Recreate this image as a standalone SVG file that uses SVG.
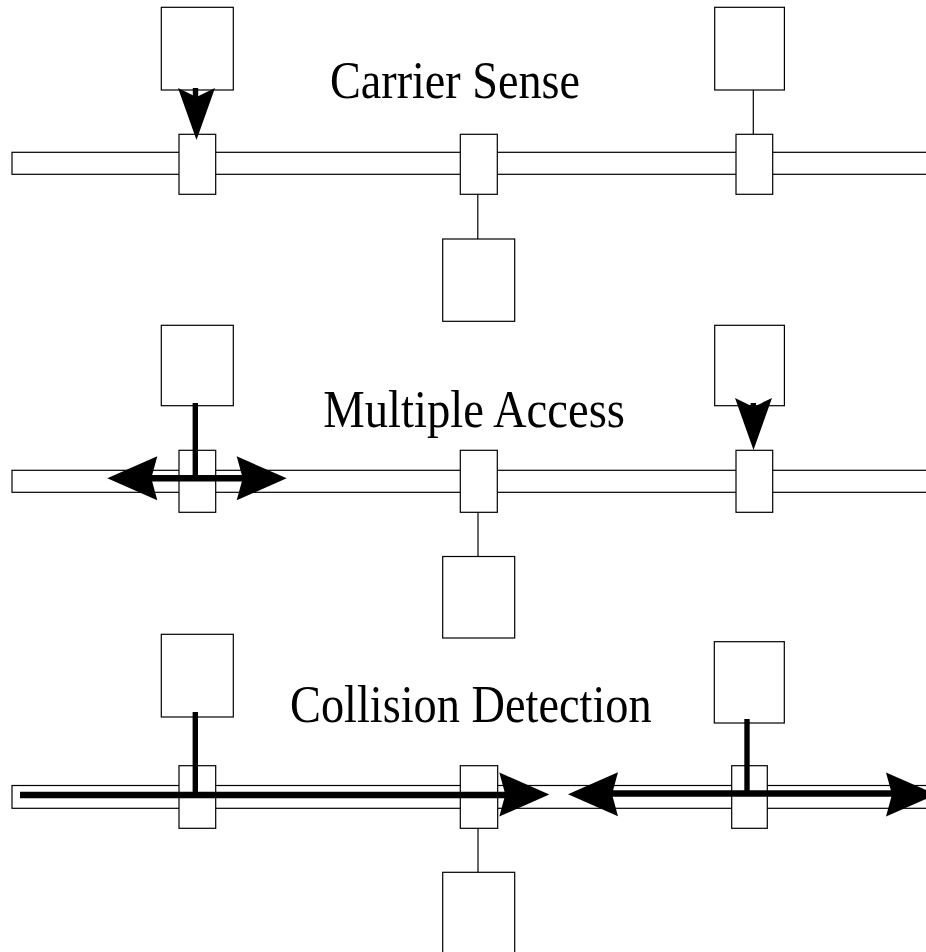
<svg xmlns="http://www.w3.org/2000/svg" width="926" height="952" viewBox="0 0 926 952">
<style>
.box{fill:#fff;stroke:#000;stroke-width:1.2}
.bus{fill:#fff;stroke:#000;stroke-width:1.2}
.thin{stroke:#000;stroke-width:1.2;fill:none}
.thick{stroke:#000;stroke-width:6.5;fill:none}
.vthick{stroke:#000;stroke-width:5.4;fill:none}
.head{fill:#000;stroke:none}
.lbl{font-family:"Liberation Serif","Times New Roman",serif;font-size:53px;fill:#000}
</style>
<defs>
<path id="hh" d="M0,0 L-50,-22 L-44,0 L-50,22 Z"/>
<path id="vh" d="M0,0 L-18.5,-52 L0,-43 L18.5,-52 Z"/>
</defs>
<rect width="926" height="952" fill="#fff"/>

<!-- Row 1: Carrier Sense -->
<g id="row1-bus"><rect class="bus" x="12" y="152.3" width="930" height="22"/></g>
<g id="row1-connectors">
<line class="thin" x1="753.3" y1="90" x2="753.3" y2="134.3"/>
<line class="thin" x1="477.8" y1="194" x2="477.8" y2="239"/>
</g>
<g id="row1-station-left"><rect class="box" x="161.3" y="7.3" width="72" height="82.7"/><rect class="box" x="179" y="134.3" width="36.7" height="60"/></g>
<g id="row1-station-mid"><rect class="box" x="460.3" y="134.3" width="37" height="60"/><rect class="box" x="442.7" y="239" width="72" height="82.3"/></g>
<g id="row1-station-right"><rect class="box" x="714.7" y="7.3" width="69.7" height="82.7"/><rect class="box" x="736" y="134.3" width="36.7" height="60"/></g>
<g id="row1-arrows">
<line class="vthick" x1="195.5" y1="88" x2="195.5" y2="100"/>
<use href="#vh" class="head" transform="translate(196.5,140)"/>
</g>
<text class="lbl" x="330" y="98.3" textLength="250" lengthAdjust="spacingAndGlyphs">Carrier Sense</text>

<!-- Row 2: Multiple Access -->
<g id="row2-bus"><rect class="bus" x="12" y="470.3" width="930" height="22"/></g>
<g id="row2-connectors">
<line class="thin" x1="478" y1="512.3" x2="478" y2="557"/>
</g>
<g id="row2-station-left"><rect class="box" x="161.3" y="325.3" width="72" height="80.4"/><rect class="box" x="179" y="450.3" width="36.7" height="62"/></g>
<g id="row2-station-mid"><rect class="box" x="460.3" y="450.3" width="37" height="62"/><rect class="box" x="442.7" y="556.5" width="72" height="81.5"/></g>
<g id="row2-station-right"><rect class="box" x="714.7" y="325.3" width="69.7" height="80.4"/><rect class="box" x="736" y="450.3" width="36.7" height="62"/></g>
<g id="row2-arrows">
<line class="vthick" x1="195.3" y1="403" x2="195.3" y2="479"/>
<line class="thick" x1="150" y1="478.3" x2="244" y2="478.3"/>
<use href="#hh" class="head" transform="translate(286.7,478.3)"/>
<use href="#hh" class="head" transform="translate(107.3,478.3) rotate(180)"/>
<line class="vthick" x1="753.3" y1="403" x2="753.3" y2="412"/>
<use href="#vh" class="head" transform="translate(753.5,450)"/>
</g>
<text class="lbl" x="323.3" y="426.7" textLength="301.7" lengthAdjust="spacingAndGlyphs">Multiple Access</text>

<!-- Row 3: Collision Detection -->
<g id="row3-bus"><rect class="bus" x="12" y="785.5" width="930" height="22.8"/></g>
<g id="row3-connectors">
<line class="thin" x1="478" y1="828.3" x2="478" y2="872.3"/>
</g>
<g id="row3-station-left"><rect class="box" x="161.3" y="634.3" width="72" height="82.7"/><rect class="box" x="179" y="765.7" width="36.7" height="62.6"/></g>
<g id="row3-station-mid"><rect class="box" x="460.3" y="765.7" width="37.4" height="62.6"/><rect class="box" x="442.7" y="872.3" width="72" height="82"/></g>
<g id="row3-station-right"><rect class="box" x="714.3" y="641.7" width="70" height="81.3"/><rect class="box" x="731.7" y="765.7" width="35.6" height="62.6"/></g>
<g id="row3-arrows">
<line class="vthick" x1="195.3" y1="712" x2="195.3" y2="795"/>
<line class="thick" x1="20" y1="795" x2="506" y2="795"/>
<use href="#hh" class="head" transform="translate(549.3,794.5)"/>
<line class="vthick" x1="747" y1="719" x2="747" y2="794"/>
<line class="thick" x1="611" y1="793.5" x2="893" y2="793.5"/>
<use href="#hh" class="head" transform="translate(568,794.3) rotate(180)"/>
<use href="#hh" class="head" transform="translate(936,794.5)"/>
</g>
<text class="lbl" x="290" y="722.3" textLength="361.7" lengthAdjust="spacingAndGlyphs">Collision Detection</text>
</svg>
